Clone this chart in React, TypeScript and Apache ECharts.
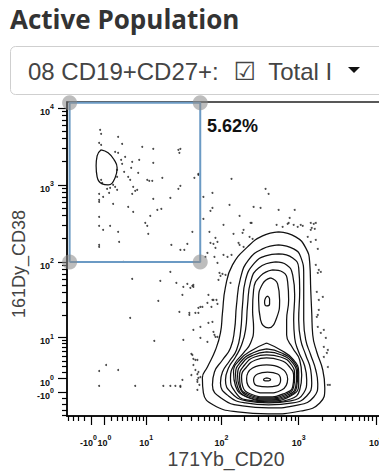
import React, { useEffect, useRef } from 'react';
import * as echarts from 'echarts';

// Display transform: arcsinh with cofactor 5, shifted so that 10^n sits near n decades.
const COFACTOR = 5;
const DECADE_SHIFT = Math.log10(2.5);
const scale = (v: number) => Math.asinh(v / COFACTOR) / Math.LN10 + DECADE_SHIFT;

// Raw intensity ranges of the two channels
const cd20Range = [-5.25, 20500];
const cd38Range = [-5.25, 11900];

// Tick positions (raw intensities)
const majorTickValues = [-1, 1, 10, 100, 1000, 10000];
const minorTickValues = [
  -5, -4, -3, -2,
  2, 3, 4, 5, 6, 7, 8, 9,
  20, 30, 40, 50, 60, 70, 80, 90,
  200, 300, 400, 500, 600, 700, 800, 900,
  2000, 3000, 4000, 5000, 6000, 7000, 8000, 9000,
];

// Rectangle gate (raw intensities) and its event frequency
const gateCd20 = [-4.7, 53];
const gateCd38 = [100, 11600];
const gateFrequency = '5.62%';

// Density contours of the CD20+ population, in display (decade) units [CD20, CD38]
const mainContours: number[][][] = [
  [[2.740,2.390],[2.961,2.325],[3.091,2.182],[3.143,1.987],[3.156,1.636],[3.169,1.338],[3.182,1.052],[3.234,0.831],[3.312,0.597],[3.338,0.364],[3.273,0.169],[3.026,0.065],[2.610,0.026],[2.208,0.052],[1.896,0.143],[1.766,0.299],[1.753,0.494],[1.818,0.636],[1.922,0.857],[1.987,1.078],[2.013,1.338],[2.052,1.675],[2.143,1.961],[2.338,2.195],[2.532,2.338],[2.740,2.390]],
  [[2.740,2.221],[2.935,2.169],[3.026,2.065],[3.065,1.831],[3.065,1.506],[3.065,1.247],[3.091,0.987],[3.156,0.792],[3.221,0.597],[3.247,0.416],[3.195,0.247],[3.000,0.143],[2.610,0.104],[2.273,0.130],[2.013,0.221],[1.883,0.403],[1.909,0.571],[2.013,0.727],[2.117,0.883],[2.169,1.117],[2.195,1.442],[2.247,1.792],[2.351,2.026],[2.532,2.169],[2.740,2.221]],
  [[2.740,2.104],[2.922,2.052],[3.000,1.922],[3.013,1.636],[3.000,1.247],[3.026,0.987],[3.091,0.792],[3.156,0.597],[3.169,0.429],[3.104,0.260],[2.922,0.169],[2.610,0.143],[2.312,0.169],[2.091,0.260],[1.987,0.429],[2.013,0.571],[2.104,0.714],[2.195,0.857],[2.247,1.091],[2.273,1.442],[2.312,1.766],[2.429,1.987],[2.571,2.078],[2.740,2.104]],
  [[2.701,2.000],[2.844,1.961],[2.922,1.831],[2.948,1.571],[2.935,1.247],[2.948,1.013],[3.000,0.831],[3.078,0.649],[3.104,0.468],[3.065,0.299],[2.896,0.195],[2.610,0.169],[2.325,0.195],[2.130,0.299],[2.052,0.468],[2.091,0.623],[2.182,0.766],[2.260,0.922],[2.312,1.117],[2.338,1.442],[2.377,1.740],[2.481,1.922],[2.701,2.000]],
  [[2.662,1.896],[2.792,1.870],[2.857,1.740],[2.870,1.506],[2.844,1.247],[2.844,1.052],[2.922,0.883],[3.013,0.727],[3.039,0.532],[3.013,0.338],[2.896,0.221],[2.610,0.182],[2.325,0.208],[2.169,0.325],[2.117,0.494],[2.169,0.675],[2.286,0.818],[2.377,0.948],[2.416,1.143],[2.403,1.377],[2.416,1.636],[2.506,1.818],[2.662,1.896]],
  // upper (CD38 high) peak
  [[2.636,1.792],[2.727,1.714],[2.753,1.506],[2.714,1.273],[2.610,1.143],[2.506,1.247],[2.481,1.506],[2.532,1.714],[2.636,1.792]],
  [[2.597,1.558],[2.623,1.519],[2.623,1.455],[2.584,1.429],[2.558,1.481],[2.571,1.532],[2.597,1.558]],
  // lower peak, pointed towards the saddle
  [[2.584,0.948],[2.766,0.857],[2.922,0.740],[3.000,0.571],[3.000,0.403],[2.896,0.260],[2.610,0.195],[2.325,0.247],[2.182,0.390],[2.156,0.571],[2.247,0.740],[2.403,0.857],[2.584,0.948]],
  [[2.584,0.870],[2.779,0.818],[2.935,0.701],[2.987,0.545],[2.974,0.377],[2.870,0.260],[2.597,0.208],[2.338,0.247],[2.208,0.377],[2.182,0.545],[2.247,0.701],[2.403,0.818],[2.584,0.870]],
  [[2.584,0.831],[2.779,0.792],[2.922,0.688],[2.974,0.532],[2.961,0.377],[2.857,0.273],[2.597,0.221],[2.351,0.260],[2.234,0.377],[2.208,0.532],[2.273,0.688],[2.416,0.792],[2.584,0.831]],
  [[2.584,0.792],[2.766,0.766],[2.909,0.662],[2.948,0.519],[2.935,0.377],[2.844,0.286],[2.597,0.234],[2.364,0.273],[2.247,0.377],[2.234,0.519],[2.299,0.662],[2.429,0.766],[2.584,0.792]],
  [[2.584,0.753],[2.753,0.727],[2.883,0.636],[2.935,0.506],[2.922,0.377],[2.831,0.299],[2.597,0.247],[2.377,0.286],[2.273,0.390],[2.260,0.506],[2.325,0.636],[2.442,0.727],[2.584,0.753]],
  [[2.584,0.662],[2.766,0.623],[2.857,0.481],[2.779,0.338],[2.584,0.299],[2.403,0.338],[2.325,0.481],[2.403,0.623],[2.584,0.662]],
  [[2.597,0.571],[2.727,0.545],[2.766,0.468],[2.714,0.390],[2.597,0.377],[2.468,0.390],[2.416,0.468],[2.468,0.545],[2.597,0.571]],
  [[2.584,0.494],[2.636,0.474],[2.584,0.455],[2.545,0.474],[2.584,0.494]],
];

// Contour of the gated CD20- CD38 high population
const gatedContour: number[][] = [
  [0.442,3.455],[0.532,3.416],[0.610,3.325],[0.649,3.221],[0.623,3.091],[0.532,3.000],[0.455,3.013],[0.390,3.104],[0.377,3.247],[0.390,3.377],[0.442,3.455],
];

// Outlier events outside the contour levels, display units [CD20, CD38]
const outlierEvents: number[][] = [
  [0.429,3.714],[0.442,3.662],[0.662,3.623],[0.416,3.545],[0.442,3.519],[0.714,3.532],[0.623,3.429],[0.662,3.416],
  [0.753,3.364],[0.701,3.325],[0.714,3.273],[0.844,3.299],[0.935,3.325],[0.974,3.494],[1.117,3.468],[1.442,3.455],
  [1.455,3.416],[1.117,3.286],[0.649,3.195],[0.740,3.169],[0.922,3.156],[0.831,3.221],[0.792,3.104],[0.818,3.065],
  [1.039,3.065],[1.065,3.052],[1.104,3.052],[1.234,3.091],[1.649,3.091],[0.442,3.065],[0.455,3.026],[0.649,3.104],
  [0.597,3.000],[0.623,2.974],[0.519,2.948],[0.558,2.961],[0.649,2.935],[0.857,2.974],[0.883,2.922],[0.909,2.935],
  [1.468,2.987],[1.442,2.948],[0.416,2.883],[0.416,2.805],[0.416,2.779],[0.468,2.844],[0.545,2.896],[0.844,2.883],
  [1.117,2.818],[1.338,2.831],[0.597,2.753],[0.792,2.714],[0.857,2.649],[1.169,2.675],[1.221,2.688],[1.078,2.597],
  [0.416,2.584],[1.013,2.506],[1.039,2.468],[0.416,2.468],[0.558,2.468],[0.468,2.416],[0.662,2.390],[1.052,2.364],
  [1.623,2.390],[0.416,2.221],[0.416,2.195],[0.675,2.260],[1.351,2.221],[1.558,2.234],[1.519,2.156],[1.701,3.143],
  [0.727,2.000],[0.844,1.779],[1.208,1.753],[1.338,1.870],[1.416,1.727],[1.558,1.714],[1.623,1.688],[1.182,1.494],
  [1.494,1.571],[0.818,1.273],[1.455,1.351],[1.584,1.338],[1.701,1.338],[1.636,1.117],[1.130,0.974],[1.610,0.805],
  [1.636,0.740],[1.688,0.727],[1.636,0.662],[1.662,0.597],[1.688,0.545],[1.701,0.494],[1.688,0.442],[0.416,0.584],
  [0.506,0.662],[0.662,0.597],[0.416,0.390],[0.883,0.390],[1.247,0.390],[1.338,0.390],[1.403,0.390],[1.468,0.390],
  [1.468,3.468],[1.701,3.130],[2.130,3.078],[2.571,2.948],[2.610,2.883],[1.883,2.896],[1.766,2.844],[2.104,2.740],
  [1.883,2.701],[1.857,2.662],[2.416,2.714],[2.506,2.701],[2.740,2.675],[2.948,2.675],[2.234,2.597],[1.766,2.558],
  [2.026,2.481],[2.390,2.506],[2.883,2.571],[2.870,2.506],[2.714,2.481],[2.792,2.455],[2.935,2.481],[2.987,2.455],
  [3.052,2.468],[3.156,2.506],[3.195,2.494],[2.286,2.416],[2.273,2.377],[2.156,2.364],[1.844,2.390],[1.922,2.312],
  [1.948,2.260],[2.364,2.325],[2.403,2.299],[2.221,2.247],[2.234,2.221],[2.286,2.195],[3.169,2.442],[3.208,2.429],
  [3.117,2.325],[3.156,2.260],[3.247,2.169],[1.468,2.156],[1.922,2.182],[1.896,2.234],[2.130,2.091],[1.909,2.065],
  [1.792,2.065],[1.974,1.857],[2.013,1.844],[2.052,1.831],[1.948,1.987],[2.117,1.727],[3.247,1.857],[3.286,1.870],
  [1.636,1.675],[2.377,2.506],[1.857,2.247],[1.818,2.117],[2.026,2.091],[2.078,2.065],[1.636,1.701],[1.701,1.403],
  [1.753,1.416],[1.818,1.468],[1.883,1.506],[1.870,1.416],[1.987,1.818],[1.961,1.766],[1.883,1.221],[1.909,1.052],
  [1.948,1.026],[1.727,1.013],[1.662,0.727],[1.701,0.571],[1.727,0.506],[1.714,0.403],[1.688,0.338],[1.610,0.532],
  [3.221,1.961],[3.260,1.896],[3.234,1.610],[3.260,1.506],[3.260,1.377],[3.234,1.286],[3.247,1.156],[3.325,1.117],
  [3.351,1.013],[3.325,0.896],[3.377,0.857],[3.325,0.766],[3.377,0.636],[3.403,0.403],[3.221,2.286],[3.156,2.416],
  [3.221,2.506],[2.857,2.494],[3.026,2.481],[1.506,1.675],[1.597,1.662],[1.831,1.571],[1.896,1.506],[1.935,1.506],
  [1.948,1.455],[1.727,1.416],[1.662,1.338],[1.584,1.312],[1.831,1.208],[1.727,1.156],[1.896,1.091],[1.922,1.026],
  [1.506,0.987],[1.818,0.961],[1.623,0.792],[1.494,0.468],[1.688,0.468],[3.312,1.545],[3.247,1.312],[3.286,1.078],
  [3.377,0.403],[3.364,0.818],[1.468,0.377],
];

const TICK_FONT = 'Liberation Sans';

const tickLabel = (u: number) => {
  let best = majorTickValues[0];
  for (const v of majorTickValues) {
    if (Math.abs(scale(v) - u) < Math.abs(scale(best) - u)) best = v;
  }
  const exp = Math.round(Math.log10(Math.abs(best)));
  return `{b|${best < 0 ? '-' : ''}10}{s|${exp}}`;
};

const tickRich = {
  b: { fontFamily: TICK_FONT, fontSize: 9, fontWeight: 'bold', color: '#111', padding: [8, 0, 0, 0] },
  s: { fontFamily: TICK_FONT, fontSize: 7, fontWeight: 'bold', color: '#111', padding: [0, 0, 2, 0] },
};

const labelStyle = (values: number[], margin: number, padding: number[] = [0, 0, 0, 0]) => ({
  show: true,
  customValues: values.map(scale),
  formatter: tickLabel,
  rich: tickRich,
  margin,
  padding,
  showMinLabel: true,
  showMaxLabel: true,
  hideOverlap: false,
});

// Builds the axes of one channel: labelled major ticks, minor ticks, and an
// optional extra label layer so that touching labels are all kept.
const channelAxes = (
  range: number[],
  position: 'bottom' | 'left',
  name: string,
  nameGap: number,
  namePadding: number[],
  nameSize: number,
  labelMargin: number,
  labelGroups: number[][],
) => {
  const base = {
    type: 'value',
    position,
    min: scale(range[0]),
    max: scale(range[1]),
    splitLine: { show: false },
  };
  const axes: any[] = [
    {
      ...base,
      name,
      nameLocation: 'middle',
      nameGap,
      nameMoveOverlap: false,
      nameTextStyle: { fontFamily: 'Liberation Sans', fontSize: nameSize, color: '#444', padding: namePadding },
      axisLine: { show: true, onZero: false, lineStyle: { color: '#000', width: 1.5 } },
      axisTick: {
        show: true,
        customValues: majorTickValues.map(scale),
        length: 9,
        lineStyle: { color: '#000', width: 1.2 },
      },
      axisLabel: labelStyle(labelGroups[0], labelMargin),
    },
    {
      ...base,
      axisLine: { show: false, onZero: false },
      axisTick: {
        show: true,
        customValues: minorTickValues.map(scale),
        length: 5,
        lineStyle: { color: '#000', width: 1.2 },
      },
      axisLabel: { show: false },
    },
  ];
  for (const group of labelGroups.slice(1)) {
    axes.push({
      ...base,
      axisLine: { show: false, onZero: false },
      axisTick: { show: false },
      axisLabel: labelStyle(group, labelMargin, [0, 5, 0, 0]),
    });
  }
  return axes;
};

export default function App() {
  const ref = useRef<HTMLDivElement>(null);

  useEffect(() => {
    if (!ref.current) return;
    const chart = echarts.init(ref.current, undefined, { renderer: 'svg' });

    const gx0 = scale(gateCd20[0]);
    const gx1 = scale(gateCd20[1]);
    const gy0 = scale(gateCd38[0]);
    const gy1 = scale(gateCd38[1]);
    const gateCorners = [[gx0, gy0], [gx1, gy0], [gx1, gy1], [gx0, gy1]];

    const contourSeries = [...mainContours, gatedContour].map((line) => ({
      type: 'line',
      data: line,
      showSymbol: false,
      smooth: 0.5,
      silent: true,
      lineStyle: { color: '#111', width: 1.25 },
      z: 3,
    }));

    chart.setOption({
      animation: false,
      grid: {
        left: 67,
        top: 102,
        right: 0,
        bottom: 55,
        containLabel: false,
        outerBoundsMode: 'none',
        show: true,
        borderColor: '#222',
        borderWidth: 1.5,
        backgroundColor: 'transparent',
      },
      xAxis: channelAxes(cd20Range, 'bottom', '171Yb_CD20', 33, [0, 15, 0, 0], 19.5, 14, [
        majorTickValues.filter((v) => v > 0),
        majorTickValues.filter((v) => v < 0),
      ]),
      yAxis: channelAxes(cd38Range, 'left', '161Dy_CD38', 39, [0, 10, 0, 0], 18, 13, [majorTickValues]),
      series: [
        {
          type: 'scatter',
          data: outlierEvents,
          symbolSize: 2,
          itemStyle: { color: '#222' },
          silent: true,
          z: 2,
        },
        ...contourSeries,
        {
          type: 'line',
          data: [...gateCorners, gateCorners[0]],
          showSymbol: false,
          clip: false,
          silent: true,
          lineStyle: { color: '#6b9ac4', width: 2 },
          z: 4,
        },
        {
          type: 'scatter',
          data: gateCorners,
          symbolSize: 15,
          clip: false,
          silent: true,
          itemStyle: { color: 'rgba(140,140,140,0.72)' },
          z: 5,
        },
      ],
      graphic: [
        {
          type: 'text',
          x: 207,
          y: 126,
          z: 10,
          style: {
            text: gateFrequency,
            fontFamily: 'Liberation Sans',
            fontWeight: 'bold',
            fontSize: 18,
            fill: '#111',
            verticalAlign: 'middle',
          },
        },
        {
          type: 'group',
          z: 100,
          children: [
            { type: 'rect', shape: { x: 0, y: 0, width: 400, height: 100 }, style: { fill: '#fff' } },
            {
              type: 'text',
              x: 10,
              y: 19,
              style: {
                text: 'Active Population',
                fontFamily: 'Open Sans',
                fontWeight: 'bold',
                fontSize: 26,
                fill: '#333',
                verticalAlign: 'middle',
              },
            },
            {
              type: 'rect',
              shape: { x: 10.5, y: 46.5, width: 420, height: 48, r: 5 },
              style: { fill: '#fff', stroke: '#cfcfcf', lineWidth: 1 },
            },
            {
              type: 'text',
              x: 28,
              y: 71,
              style: {
                text: '{t|08 CD19+CD27+:}{c|☑}{t|Total I}',
                verticalAlign: 'middle',
                rich: {
                  t: { fontFamily: 'Liberation Sans', fontSize: 24, fill: '#444' },
                  c: { fontFamily: 'DejaVu Sans', fontSize: 25, fill: '#444', padding: [0, 12, 0, 15] },
                },
              },
            },
            {
              type: 'polygon',
              shape: { points: [[348, 67], [360, 67], [354, 73]] },
              style: { fill: '#111' },
            },
          ],
        },
      ],
    });

    return () => chart.dispose();
  }, []);

  return (
    <div
      style={{
        position: 'fixed',
        left: 0,
        top: 0,
        width: 379,
        height: 471,
        overflow: 'hidden',
        background: '#fff',
      }}
    >
      <div ref={ref} style={{ width: 400, height: 471 }} />
    </div>
  );
}
